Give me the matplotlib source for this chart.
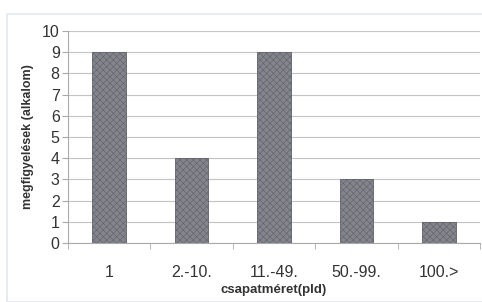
import matplotlib
matplotlib.use('AGG')

import numpy as np
import matplotlib.pyplot as plt
from matplotlib.patches import Rectangle

# Data
categories = ['1', '2.-10.', '11.-49.', '50.-99.', '100.>']
counts = [9, 4, 9, 3, 1]

plt.rcParams['font.family'] = ['Liberation Sans', 'DejaVu Sans']
plt.rcParams['hatch.linewidth'] = 0.4

fig = plt.figure(figsize=(4.82, 3.02), dpi=100)
# light frame around the chart
fig.patches.append(Rectangle((7/482, 0), 1, 1 - 14/302, transform=fig.transFigure,
                             fill=False, edgecolor='#e4e8ec', linewidth=1.2))
ax = fig.add_axes([68/482, 1 - 243/302, 412/482, 212/302])

x = np.arange(len(categories))
ax.bar(x, counts, width=0.41, color='#84848c', edgecolor='#606068',
       hatch='xxxxx', linewidth=0.6, zorder=3)

ax.set_xlim(-0.5, len(categories) - 0.5)
ax.set_ylim(0, 10)
ax.set_yticks(range(0, 11))
ax.grid(axis='y', color='#c4c4c4', linewidth=0.8, zorder=0)

ax.set_xticks(x)
ax.set_xticklabels(categories)
ax.set_xticks(np.arange(-0.5, len(categories)), minor=True)
ax.tick_params(axis='x', which='major', length=0, labelsize=11.5, colors='#333333', pad=16)
ax.tick_params(axis='x', which='minor', length=4, color='#aaaaaa', direction='out')
ax.tick_params(axis='y', length=4, color='#aaaaaa', labelsize=11.5, labelcolor='#333333', pad=2)

for s in ['top', 'right']:
    ax.spines[s].set_visible(False)
ax.spines['left'].set_color('#aaaaaa')
ax.spines['bottom'].set_color('#aaaaaa')

ax.set_xlabel('csapatméret(pld)', fontsize=9.5, fontweight='bold', color='#333333', labelpad=3)
ax.set_ylabel('megfigyelések (alkalom)', fontsize=9, fontweight='bold', color='#333333', labelpad=6)

plt.savefig('out.png', dpi=100)
